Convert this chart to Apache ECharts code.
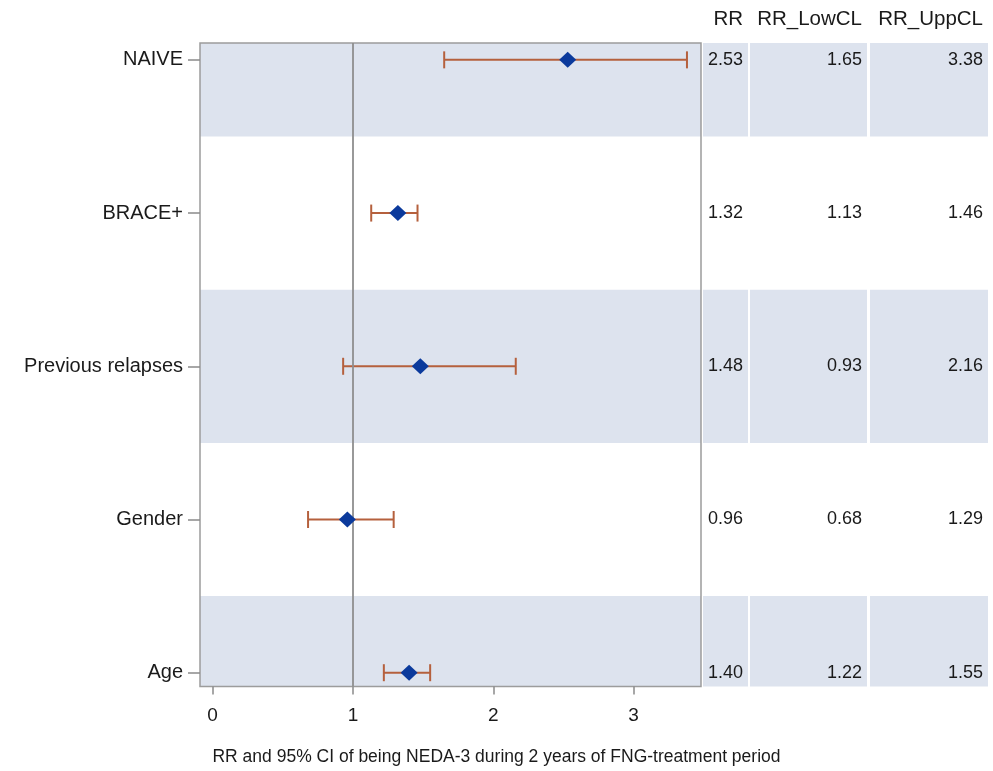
<!DOCTYPE html>
<html>
<head>
<meta charset="utf-8">
<script src="https://cdn.jsdelivr.net/npm/echarts@6/dist/echarts.min.js"></script>
<style>html,body{margin:0;padding:0;background:#fff}#c{width:993px;height:771px}</style>
</head>
<body>
<div id="c"></div>
<script>
// ---- data (top to bottom) ----
const categories = ['NAIVE', 'BRACE+', 'Previous relapses', 'Gender', 'Age'];
const rr     = [2.53, 1.32, 1.48, 0.96, 1.40];
const lowCL  = [1.65, 1.13, 0.93, 0.68, 1.22];
const uppCL  = [3.38, 1.46, 2.16, 1.29, 1.55];
const xTicks = [0, 1, 2, 3];
const tableHeaders = ['RR', 'RR_LowCL', 'RR_UppCL'];
const tableColumns = [rr, lowCL, uppCL];
const xTitle = 'RR and 95% CI of being NEDA-3 during 2 years of FNG-treatment period';

const FONT = 'Liberation Sans, Arial, sans-serif';
const BAND = '#dde3ee';
const TXT = '#1a1a1a';
const rowIdx = categories.map((_, i) => i);
const Y_MIN = -0.11, Y_MAX = categories.length - 1 + 0.09;

const chart = echarts.init(document.getElementById('c'), null, {renderer: 'canvas'});

function bandItem(params, api, withText) {
  const i = api.value(0);
  const cs = params.coordSys;
  const ya = Math.max(cs.y, api.coord([0, i - 0.5])[1]);
  const yb = Math.min(cs.y + cs.height, api.coord([0, i + 0.5])[1]);
  const children = [];
  if (i % 2 === 0) {
    children.push({type: 'rect', shape: {x: cs.x, y: ya, width: cs.width, height: yb - ya},
      style: {fill: BAND}, z2: 0});
  }
  if (withText) {
    const yc = api.coord([0, i])[1];
    children.push({type: 'text', x: cs.x + cs.width - 5, y: yc,
      style: {text: api.value(1).toFixed(2), align: 'right', verticalAlign: 'middle',
        fill: TXT, font: '18px ' + FONT}, z2: 5});
  }
  return {type: 'group', children};
}

// grids: 0 = plot, 1..3 = table columns
const grids = [
  {left: 200, top: 43, width: 501, height: 643.5, show: true, borderColor: '#9c9c9c', borderWidth: 1.5, backgroundColor: 'transparent'},
  {left: 703, top: 43, width: 45, height: 643.5},
  {left: 750, top: 43, width: 117, height: 643.5},
  {left: 870, top: 43, width: 118, height: 643.5}
];

const xAxes = [{
  gridIndex: 0, type: 'value', min: -0.09, max: 3.48, position: 'bottom',
  axisLine: {show: false, onZero: false},
  splitLine: {show: false},
  axisTick: {show: true, length: 8, customValues: xTicks, lineStyle: {color: '#8a8a8a', width: 1.5}},
  axisLabel: {customValues: xTicks, margin: 20, color: TXT, fontSize: 19, fontFamily: FONT}
}];
const yAxes = [{
  gridIndex: 0, type: 'value', min: Y_MIN, max: Y_MAX, inverse: true, position: 'left',
  axisLine: {show: false, onZero: false}, splitLine: {show: false},
  axisTick: {show: true, length: 12, customValues: rowIdx, lineStyle: {color: '#8a8a8a', width: 1.5}},
  axisLabel: {customValues: rowIdx, margin: 17, color: TXT, fontSize: 20, fontFamily: FONT,
    formatter: v => categories[Math.round(v)]}
}];
for (let k = 0; k < 3; k++) {
  xAxes.push({gridIndex: k + 1, type: 'value', min: 0, max: 1, position: 'top', offset: 24,
    axisLine: {show: false, onZero: false}, axisTick: {show: false}, axisLabel: {show: false}, splitLine: {show: false},
    name: tableHeaders[k], nameLocation: 'end', nameGap: -5,
    nameTextStyle: {align: 'right', verticalAlign: 'middle', color: TXT, fontSize: 20.5, fontFamily: FONT}});
  yAxes.push({gridIndex: k + 1, type: 'value', min: Y_MIN, max: Y_MAX, inverse: true, show: false,
    axisLine: {onZero: false}});
}

const series = [
  {
    type: 'custom', xAxisIndex: 0, yAxisIndex: 0, z: -1, silent: true,
    data: rowIdx.map(i => [i]),
    renderItem: (p, api) => bandItem(p, api, false)
  },
  {
    type: 'custom', xAxisIndex: 0, yAxisIndex: 0, z: 3, silent: true,
    data: rowIdx.map(i => [lowCL[i], uppCL[i], i]),
    renderItem: (p, api) => {
      const a = api.coord([api.value(0), api.value(2)]);
      const b = api.coord([api.value(1), api.value(2)]);
      const h = 8.5;
      const st = {stroke: '#b5603d', lineWidth: 2};
      return {type: 'group', children: [
        {type: 'line', shape: {x1: a[0], y1: a[1], x2: b[0], y2: b[1]}, style: st},
        {type: 'line', shape: {x1: a[0], y1: a[1] - h, x2: a[0], y2: a[1] + h}, style: st},
        {type: 'line', shape: {x1: b[0], y1: b[1] - h, x2: b[0], y2: b[1] + h}, style: st}
      ]};
    }
  },
  {
    type: 'scatter', xAxisIndex: 0, yAxisIndex: 0, z: 5,
    data: rowIdx.map(i => [rr[i], i]),
    symbol: 'diamond', symbolSize: [17, 16],
    itemStyle: {color: '#0b3a9c', opacity: 1},
    markLine: {silent: true, symbol: 'none', label: {show: false},
      lineStyle: {color: '#8e8e8e', width: 1.8, type: 'solid'},
      data: [{xAxis: 1}]}
  }
];
for (let k = 0; k < 3; k++) {
  series.push({
    type: 'custom', xAxisIndex: k + 1, yAxisIndex: k + 1, silent: true,
    data: rowIdx.map(i => [i, tableColumns[k][i]]),
    renderItem: (p, api) => bandItem(p, api, true)
  });
}

chart.setOption({
  animation: false,
  backgroundColor: '#ffffff',
  title: {text: xTitle, left: 'center', top: 743,
    textStyle: {color: TXT, fontSize: 17.5, fontWeight: 'normal', fontFamily: FONT}},
  grid: grids,
  xAxis: xAxes,
  yAxis: yAxes,
  series: series
});
</script>
</body>
</html>
